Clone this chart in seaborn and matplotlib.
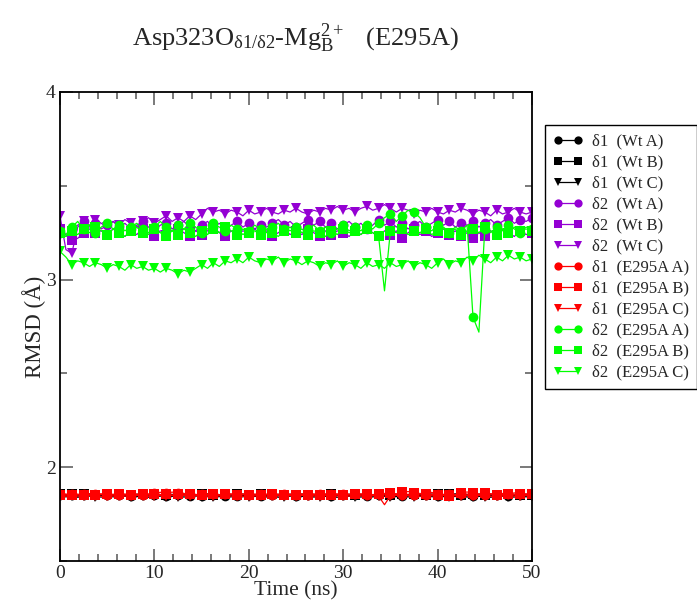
import numpy as np
import matplotlib
matplotlib.use("Agg")
import matplotlib.pyplot as plt
import seaborn as sns
from matplotlib.ticker import MultipleLocator

# ---------------- data ----------------
time_step_ns = 0.625

d1_wt_a = [1.852,1.848,1.851,1.846,1.853,1.849,1.850,1.847,1.852,1.848,
           1.851,1.849,1.846,1.852,1.850,1.848,1.851,1.853,1.849,1.847,
           1.850,1.852,1.848,1.851,1.849,1.846,1.850,1.852,1.848,1.851,
           1.847,1.849,1.852,1.850,1.846,1.849,1.851,1.848,1.852,1.850,
           1.847,1.849,1.851,1.848,1.852,1.849,1.846,1.850,1.852,1.848,
           1.851,1.849,1.847,1.850,1.852,1.848,1.851,1.849,1.846,1.850,
           1.852,1.848,1.851,1.849,1.847,1.850,1.852,1.848,1.851,1.849,
           1.846,1.850,1.852,1.848,1.851,1.849,1.847,1.850,1.852,1.848,
           1.850]
d1_wt_b = [1.856,1.853,1.857,1.852,1.855,1.858,1.854,1.851,1.856,1.853,
           1.857,1.854,1.852,1.856,1.855,1.853,1.857,1.854,1.851,1.855,
           1.856,1.853,1.857,1.852,1.855,1.858,1.854,1.851,1.856,1.853,
           1.855,1.857,1.852,1.854,1.856,1.853,1.857,1.855,1.852,1.856,
           1.854,1.857,1.853,1.855,1.852,1.856,1.858,1.854,1.853,1.856,
           1.852,1.855,1.857,1.853,1.856,1.854,1.851,1.855,1.857,1.853,
           1.856,1.854,1.852,1.857,1.855,1.853,1.856,1.858,1.854,1.852,
           1.855,1.857,1.853,1.856,1.854,1.852,1.857,1.855,1.853,1.856,
           1.854]
d1_wt_c = [1.846,1.842,1.845,1.840,1.844,1.847,1.843,1.841,1.845,1.842,
           1.844,1.846,1.841,1.843,1.845,1.840,1.844,1.846,1.842,1.845,
           1.843,1.841,1.845,1.847,1.842,1.844,1.840,1.843,1.846,1.842,
           1.845,1.843,1.841,1.844,1.846,1.842,1.845,1.840,1.843,1.846,
           1.842,1.844,1.846,1.841,1.843,1.845,1.842,1.840,1.844,1.846,
           1.843,1.841,1.845,1.842,1.844,1.846,1.841,1.843,1.845,1.842,
           1.840,1.844,1.846,1.843,1.841,1.845,1.842,1.844,1.846,1.841,
           1.843,1.845,1.842,1.840,1.844,1.846,1.843,1.841,1.845,1.842,
           1.844]
d2_wt_a = [3.25,3.23,3.27,3.29,3.31,3.28,3.30,3.27,3.29,3.31,
           3.28,3.30,3.27,3.29,3.31,3.28,3.26,3.29,3.30,3.27,
           3.29,3.31,3.28,3.26,3.29,3.31,3.28,3.30,3.27,3.29,
           3.31,3.28,3.30,3.27,3.29,3.28,3.30,3.32,3.29,3.31,
           3.28,3.30,3.32,3.29,3.31,3.28,3.30,3.27,3.29,3.31,
           3.28,3.30,3.27,3.29,3.32,3.29,3.31,3.28,3.30,3.27,
           3.29,3.31,3.28,3.30,3.32,3.29,3.31,3.28,3.30,3.29,
           3.31,3.28,3.30,3.32,3.29,3.31,3.33,3.30,3.32,3.31,
           3.33]
d2_wt_b = [3.27,3.24,3.21,3.22,3.25,3.27,3.25,3.26,3.24,3.27,
           3.25,3.23,3.26,3.24,3.27,3.25,3.23,3.26,3.24,3.26,
           3.27,3.25,3.23,3.26,3.24,3.26,3.28,3.25,3.23,3.26,
           3.24,3.26,3.25,3.27,3.24,3.26,3.23,3.25,3.27,3.24,
           3.26,3.24,3.27,3.25,3.23,3.26,3.24,3.26,3.25,3.23,
           3.26,3.24,3.27,3.25,3.23,3.26,3.24,3.26,3.22,3.25,
           3.27,3.24,3.26,3.23,3.25,3.27,3.24,3.26,3.23,3.25,
           3.22,3.25,3.23,3.26,3.24,3.27,3.25,3.23,3.26,3.24,
           3.25]
d2_wt_c = [3.34,3.16,3.14,3.28,3.31,3.29,3.32,3.30,3.28,3.31,
           3.29,3.32,3.30,3.28,3.31,3.33,3.30,3.32,3.34,3.31,
           3.33,3.31,3.34,3.32,3.35,3.38,3.36,3.37,3.35,3.37,
           3.36,3.34,3.37,3.35,3.36,3.38,3.36,3.35,3.37,3.36,
           3.38,3.36,3.35,3.37,3.36,3.38,3.37,3.39,3.37,3.38,
           3.36,3.38,3.39,3.37,3.38,3.40,3.38,3.36,3.38,3.37,
           3.35,3.37,3.36,3.38,3.36,3.35,3.37,3.36,3.38,3.37,
           3.35,3.37,3.36,3.34,3.37,3.35,3.36,3.38,3.36,3.35,
           3.36]
d1_mut_a = [1.855,1.851,1.856,1.853,1.857,1.852,1.855,1.858,1.853,1.856,
            1.852,1.857,1.854,1.856,1.853,1.858,1.862,1.866,1.864,1.867,
            1.863,1.860,1.856,1.854,1.857,1.853,1.856,1.852,1.855,1.857,
            1.853,1.856,1.854,1.852,1.857,1.855,1.853,1.856,1.858,1.854,
            1.852,1.856,1.853,1.857,1.855,1.852,1.856,1.854,1.857,1.853,
            1.855,1.858,1.854,1.852,1.856,1.853,1.857,1.855,1.852,1.856,
            1.854,1.857,1.853,1.855,1.858,1.854,1.856,1.852,1.855,1.857,
            1.853,1.856,1.854,1.857,1.852,1.855,1.858,1.854,1.856,1.853,
            1.855]
d1_mut_b = [1.853,1.857,1.852,1.856,1.854,1.858,1.853,1.855,1.857,1.852,
            1.856,1.854,1.851,1.855,1.858,1.853,1.856,1.854,1.857,1.852,
            1.855,1.853,1.857,1.854,1.852,1.856,1.858,1.853,1.855,1.857,
            1.852,1.856,1.854,1.857,1.853,1.855,1.858,1.854,1.852,1.856,
            1.854,1.857,1.853,1.855,1.852,1.856,1.854,1.858,1.853,1.856,
            1.855,1.852,1.857,1.854,1.856,1.860,1.863,1.858,1.866,1.870,
            1.864,1.860,1.857,1.866,1.854,1.850,1.845,1.852,1.862,1.868,
            1.860,1.856,1.864,1.858,1.854,1.860,1.857,1.863,1.855,1.858,
            1.856]
d1_mut_c = [1.849,1.845,1.850,1.846,1.848,1.851,1.847,1.844,1.849,1.846,
            1.850,1.847,1.845,1.849,1.851,1.846,1.848,1.850,1.845,1.849,
            1.847,1.850,1.846,1.848,1.851,1.845,1.849,1.847,1.850,1.846,
            1.848,1.845,1.850,1.847,1.849,1.846,1.851,1.848,1.845,1.849,
            1.847,1.850,1.846,1.848,1.845,1.849,1.851,1.847,1.849,1.846,
            1.850,1.847,1.845,1.849,1.846,1.800,1.848,1.850,1.846,1.849,
            1.847,1.845,1.850,1.848,1.846,1.849,1.851,1.847,1.845,1.849,
            1.846,1.850,1.848,1.845,1.849,1.847,1.850,1.846,1.848,1.849,
            1.847]
d2_mut_a = [3.26,3.24,3.28,3.31,3.27,3.29,3.25,3.28,3.30,3.27,
            3.29,3.26,3.28,3.30,3.27,3.25,3.28,3.31,3.28,3.26,
            3.29,3.27,3.30,3.28,3.25,3.27,3.30,3.28,3.26,3.29,
            3.27,3.24,3.26,3.29,3.27,3.25,3.28,3.30,3.27,3.26,
            3.28,3.25,3.27,3.29,3.26,3.28,3.25,3.27,3.29,3.26,
            3.28,3.26,3.29,3.27,3.30,3.33,3.35,3.31,3.34,3.37,
            3.36,3.33,3.28,3.26,3.29,3.27,3.25,3.28,3.26,3.29,
            2.80,2.72,3.27,3.25,3.28,3.26,3.29,3.27,3.25,3.28,
            3.27]
d2_mut_b = [3.25,3.23,3.26,3.24,3.27,3.25,3.28,3.26,3.24,3.27,
            3.25,3.23,3.26,3.28,3.25,3.24,3.27,3.25,3.23,3.26,
            3.24,3.27,3.25,3.23,3.26,3.24,3.27,3.25,3.28,3.26,
            3.24,3.27,3.25,3.26,3.24,3.27,3.25,3.23,3.26,3.28,
            3.25,3.27,3.24,3.26,3.25,3.23,3.26,3.24,3.27,3.25,
            3.26,3.24,3.27,3.25,3.23,2.94,3.26,3.25,3.27,3.24,
            3.26,3.25,3.27,3.24,3.26,3.28,3.25,3.27,3.24,3.26,
            3.27,3.25,3.28,3.26,3.24,3.27,3.25,3.28,3.26,3.27,
            3.26]
d2_mut_c = [3.15,3.12,3.08,3.10,3.09,3.07,3.09,3.08,3.06,3.08,
            3.07,3.05,3.08,3.06,3.07,3.05,3.06,3.04,3.06,3.05,
            3.03,3.05,3.04,3.06,3.08,3.06,3.09,3.07,3.10,3.09,
            3.11,3.09,3.12,3.10,3.09,3.11,3.10,3.12,3.09,3.11,
            3.10,3.08,3.10,3.09,3.07,3.09,3.08,3.10,3.07,3.09,
            3.08,3.06,3.09,3.07,3.08,3.06,3.09,3.07,3.08,3.10,
            3.07,3.09,3.08,3.06,3.09,3.11,3.08,3.10,3.09,3.12,
            3.10,3.13,3.11,3.09,3.12,3.10,3.13,3.11,3.12,3.10,
            3.11]

labels = ["δ1  (Wt A)", "δ1  (Wt B)", "δ1  (Wt C)",
          "δ2  (Wt A)", "δ2  (Wt B)", "δ2  (Wt C)",
          "δ1  (E295A A)", "δ1  (E295A B)", "δ1  (E295A C)",
          "δ2  (E295A A)", "δ2  (E295A B)", "δ2  (E295A C)"]
series = [d1_wt_a, d1_wt_b, d1_wt_c, d2_wt_a, d2_wt_b, d2_wt_c,
          d1_mut_a, d1_mut_b, d1_mut_c, d2_mut_a, d2_mut_b, d2_mut_c]

# ---------------- style ----------------
sns.set_style("ticks")
plt.rcParams['font.family'] = ['Liberation Serif', 'DejaVu Serif']
plt.rcParams['mathtext.fontset'] = 'custom'
plt.rcParams['mathtext.rm'] = 'Liberation Serif'
plt.rcParams['mathtext.it'] = 'Liberation Serif:italic'
plt.rcParams['mathtext.bf'] = 'Liberation Serif:bold'

BLACK, PURPLE, RED, GREEN = "#000000", "#9400d3", "#ff0000", "#00ff00"
colors = [BLACK]*3 + [PURPLE]*3 + [RED]*3 + [GREEN]*3
markers = ["o", "s", "v"]*4

fig = plt.figure(figsize=(6.97, 6.05), dpi=100)
ax = fig.add_axes([60/697, 1-561/605, (532-60)/697, (561-92)/605])

for vals, lab, col, mk in zip(series, labels, colors, markers):
    t = np.arange(len(vals)) * time_step_ns
    msize = 7.5 if mk == "v" else 7
    sns.lineplot(x=t, y=vals, ax=ax, color=col, marker=mk, markevery=2,
                 markersize=msize, markeredgewidth=0, linewidth=0.9,
                 label=lab, errorbar=None, sort=False)

ax.set_xlim(0, 50)
ax.set_ylim(1.5, 4)
ax.xaxis.set_major_locator(MultipleLocator(10))
ax.xaxis.set_minor_locator(MultipleLocator(2))
ax.yaxis.set_major_locator(MultipleLocator(1))
ax.yaxis.set_minor_locator(MultipleLocator(0.5))
ax.tick_params(which='both', direction='in', top=True, right=True,
               color='#555555', width=1.1)
ax.tick_params(which='major', length=9, labelsize=14, pad=3)
ax.tick_params(which='minor', length=5)
for sp in ax.spines.values():
    sp.set_color('black')
    sp.set_linewidth(1.3)

ax.set_xlabel("Time (ns)", fontsize=15.5, labelpad=-1)
ax.set_ylabel("RMSD (Å)", fontsize=16.5, labelpad=0)
ax.set_title(r"Asp323O$_{\mathrm{δ1/δ2}}$-Mg$_{\mathrm{B}}^{\mathrm{2+}}$   (E295A)",
             fontsize=19, pad=33)

leg = ax.legend(loc='upper left', bbox_to_anchor=(545/697, 1-125/605),
                bbox_transform=fig.transFigure, numpoints=2, fontsize=12,
                handlelength=1.8, handletextpad=0.5, labelspacing=0.3,
                borderpad=0.5, fancybox=False, framealpha=1,
                edgecolor='black', borderaxespad=0, markerscale=0.85)
leg.get_frame().set_linewidth(1.0)

fig.savefig("out.png", dpi=100)
